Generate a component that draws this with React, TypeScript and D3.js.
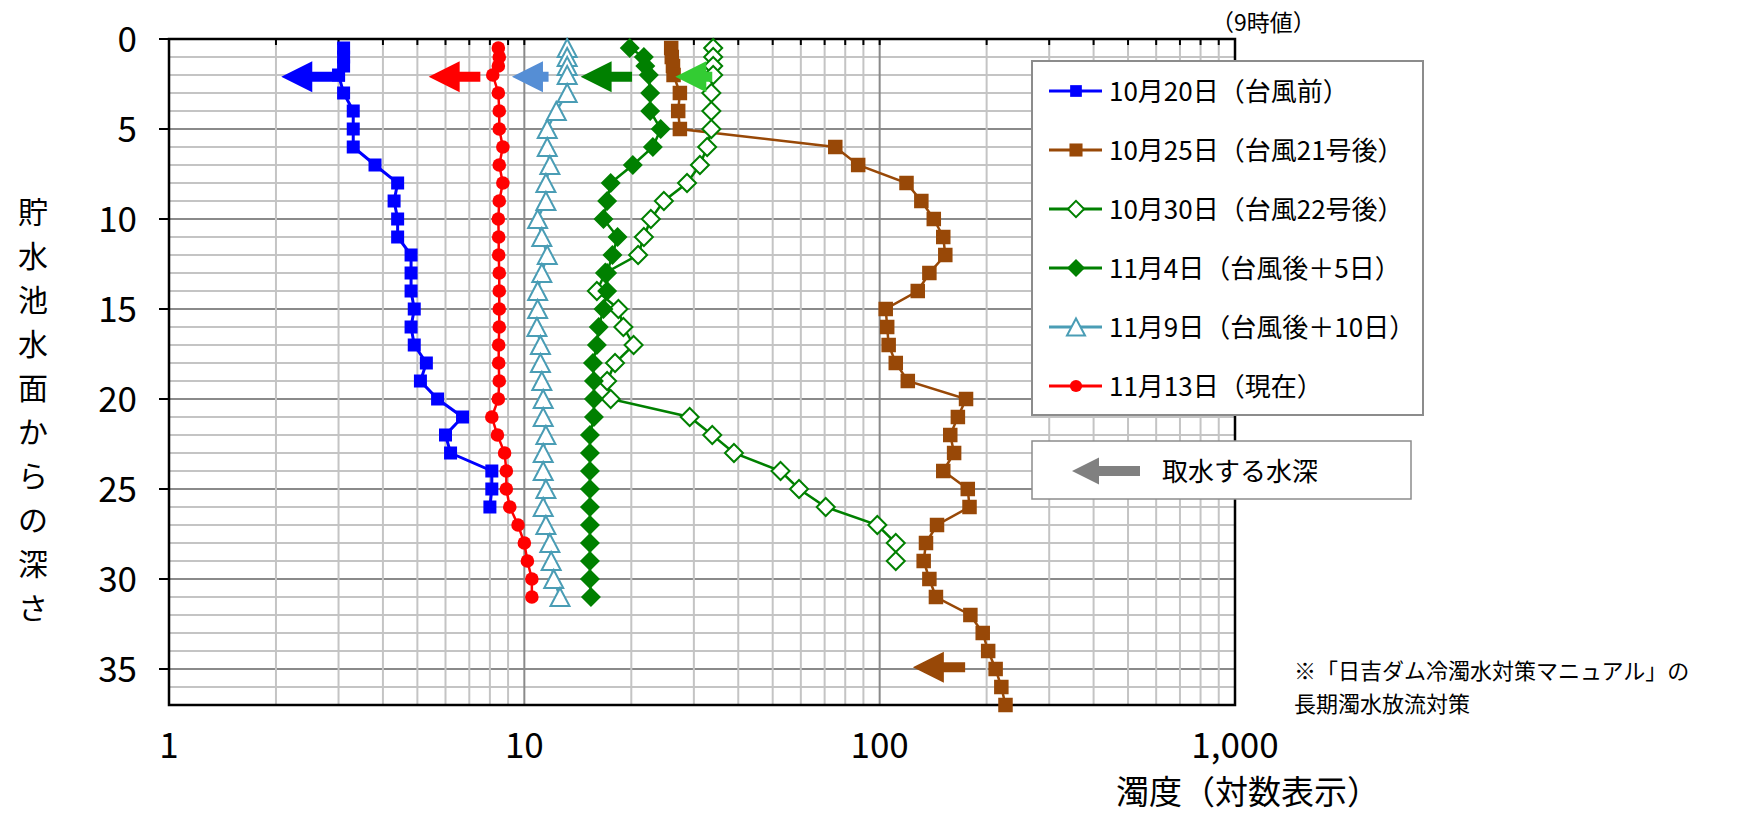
import React from 'react';
import * as d3 from 'd3';

// ---------- data ----------
const depths = [0.5, 1, 1.5, 2, 3, 4, 5, 6, 7, 8, 9, 10, 11, 12, 13, 14, 15, 16, 17, 18, 19, 20,
  21, 22, 23, 24, 25, 26, 27, 28, 29, 30, 31, 32, 33, 34, 35, 36, 37];

const seriesNames = [
  '10月20日（台風前）',
  '10月25日（台風21号後）',
  '10月30日（台風22号後）',
  '11月4日（台風後＋5日）',
  '11月9日（台風後＋10日）',
  '11月13日（現在）',
];

const oct20 = [3.1, 3.1, 3.1, 3.0, 3.1, 3.3, 3.3, 3.3, 3.8, 4.4, 4.3, 4.4, 4.4, 4.8, 4.8, 4.8, 4.9, 4.8,
  4.9, 5.3, 5.1, 5.7, 6.7, 6.0, 6.2, 8.1, 8.1, 8.0];
const oct25 = [25.9, 26.0, 26.2, 26.3, 27.4, 27.1, 27.4, 75, 87, 119, 131, 142, 151, 153, 138, 128, 104,
  105, 106, 111, 120, 175, 166, 158, 162, 151, 177, 179, 145, 135, 133, 138, 144, 180, 195, 202, 212,
  220, 226];
const oct30 = [34.0, 34.0, 34.0, 34.0, 33.6, 33.6, 33.6, 32.7, 31.2, 28.7, 24.7, 22.7, 21.7, 20.9, 16.9,
  16.0, 18.4, 19.0, 20.3, 18.0, 17.1, 17.5, 29.2, 33.8, 38.9, 52.6, 59.3, 70.5, 98.5, 111, 111];
const nov4 = [19.8, 21.7, 21.9, 22.4, 22.6, 22.6, 24.2, 23.0, 20.2, 17.5, 17.1, 16.7, 18.3, 17.7, 17.1,
  17.1, 16.7, 16.2, 16.0, 15.6, 15.7, 15.7, 15.7, 15.3, 15.3, 15.3, 15.3, 15.3, 15.3, 15.3, 15.3, 15.3,
  15.4];
const nov9 = [13.2, 13.2, 13.2, 13.2, 13.2, 12.3, 11.6, 11.6, 11.8, 11.5, 11.5, 10.9, 11.2, 11.6, 11.2,
  10.9, 10.9, 10.85, 11.1, 11.1, 11.2, 11.3, 11.3, 11.5, 11.3, 11.3, 11.5, 11.3, 11.5, 11.8, 11.9, 12.1,
  12.6];
const nov13 = [8.45, 8.5, 8.45, 8.15, 8.45, 8.5, 8.5, 8.7, 8.5, 8.7, 8.5, 8.45, 8.47, 8.47, 8.5, 8.5, 8.5,
  8.5, 8.47, 8.47, 8.5, 8.45, 8.1, 8.4, 8.8, 8.9, 8.9, 9.1, 9.6, 10.0, 10.2, 10.5, 10.5];

const seriesValues = [oct20, oct25, oct30, nov4, nov9, nov13];
const seriesColors = ['#0000FF', '#984807', '#008000', '#008000', '#4A9DB5', '#FF0000'];
const seriesShapes = ['square', 'bigsquare', 'opendiamond', 'diamond', 'triangle', 'circle'];

// intake-depth arrows
const arrowDepth = [2.1, 2.1, 2.1, 2.1, 2.1, 34.9];
const arrowTip = [2.07, 5.38, 9.23, 14.4, 26.6, 124];
const arrowTail = [3.13, 7.52, 11.7, 20.1, 33.8, 174];
const arrowColors = ['#0000FF', '#FF0000', '#558ED5', '#008000', '#33CC33', '#984807'];

const xTickLabels = ['1', '10', '100', '1,000'];
const xTickValues = [1, 10, 100, 1000];
const yTickValues = [0, 5, 10, 15, 20, 25, 30, 35];
const yTitle = '貯水池水面からの深さ';
const xTitle = '濁度（対数表示）';
const noteLines = ['※「日吉ダム冷濁水対策マニュアル」の', '長期濁水放流対策'];

// ---------- layout ----------
const W = 1737;
const H = 814;
const L = 169, R = 1235, T = 39, B = 705;
const FONT = '"Noto Sans CJK JP", "Noto Sans", sans-serif';

const x = d3.scaleLog().domain([1, 1000]).range([L, R]);
const y = d3.scaleLinear().domain([0, 37]).range([T, B]);

function Marker({ shape, cx, cy, color, scale = 1 }: any) {
  switch (shape) {
    case 'square': {
      const s = 13 * scale;
      return <rect x={cx - s / 2} y={cy - s / 2} width={s} height={s} fill={color} />;
    }
    case 'bigsquare': {
      const s = 14.5 * scale;
      return <rect x={cx - s / 2} y={cy - s / 2} width={s} height={s} fill={color} />;
    }
    case 'opendiamond': {
      const r = 9 * scale;
      return <path d={`M${cx},${cy - r}L${cx + r},${cy}L${cx},${cy + r}L${cx - r},${cy}Z`} fill="#fff" stroke={color} strokeWidth={2} />;
    }
    case 'diamond': {
      const r = 10 * scale;
      return <path d={`M${cx},${cy - r}L${cx + r},${cy}L${cx},${cy + r}L${cx - r},${cy}Z`} fill={color} />;
    }
    case 'triangle': {
      const w = 9.5 * scale, h = 9 * scale;
      return <path d={`M${cx},${cy - h}L${cx + w},${cy + h}L${cx - w},${cy + h}Z`} fill="#fff" stroke={color} strokeWidth={2} />;
    }
    default: {
      return <circle cx={cx} cy={cy} r={6.8 * scale} fill={color} />;
    }
  }
}

function arrowPath(xt: number, xe: number, yc: number) {
  const hl = 31, hh = 15.5, st = 5;
  const xh = xt + hl;
  if (xe <= xh + 1) {
    return `M${xt},${yc}L${xh},${yc - hh}L${xh},${yc + hh}Z`;
  }
  return `M${xt},${yc}L${xh},${yc - hh}L${xh},${yc - st}L${xe},${yc - st}L${xe},${yc + st}L${xh},${yc + st}L${xh},${yc + hh}Z`;
}

export default function App() {
  const xGrid = x.ticks();
  const yGrid = y.ticks(37);
  const line = d3.line<[number, number]>().x(d => x(d[0])).y(d => y(d[1]));

  return (
    <svg width={W} height={H} style={{ position: 'absolute', left: 0, top: 0, background: '#fff' }} fontFamily={FONT}>
      <rect x={0} y={0} width={W} height={H} fill="#fff" />
      {/* horizontal grid */}
      {yGrid.filter(v => v > 0 && v < 37).map(v => (
        <line key={'h' + v} x1={L} x2={R} y1={y(v)} y2={y(v)}
          stroke={v % 5 === 0 ? '#8a8a8a' : '#c4c4c4'} strokeWidth={2} />
      ))}
      {/* vertical grid */}
      {xGrid.filter(v => v > 1 && v < 1000).map(v => {
        const major = Math.abs(Math.log10(v) - Math.round(Math.log10(v))) < 1e-9;
        return <line key={'v' + v} x1={x(v)} x2={x(v)} y1={T} y2={B}
          stroke={major ? '#8a8a8a' : '#c4c4c4'} strokeWidth={2} />;
      })}
      {/* top ticks */}
      {xGrid.map(v => (
        <line key={'tt' + v} x1={x(v)} x2={x(v)} y1={T} y2={T + 6} stroke="#000" strokeWidth={2} />
      ))}
      {/* left ticks */}
      {yTickValues.map(v => (
        <line key={'lt' + v} x1={L - 10} x2={L} y1={y(v)} y2={y(v)} stroke="#000" strokeWidth={2} />
      ))}
      {/* frame */}
      <rect x={L} y={T} width={R - L} height={B - T} fill="none" stroke="#000" strokeWidth={2.5} />

      {/* series */}
      {seriesValues.map((vals, si) => {
        const pts: [number, number][] = vals.map((v, i) => [v, depths[i]]);
        return (
          <g key={'s' + si}>
            <path d={line(pts) || ''} fill="none" stroke={seriesColors[si]} strokeWidth={si === 0 ? 3 : 2.5} />
            {pts.map((p, i) => (
              <Marker key={i} shape={seriesShapes[si]} cx={x(p[0])} cy={y(p[1])} color={seriesColors[si]} />
            ))}
          </g>
        );
      })}

      {/* intake arrows */}
      {arrowTip.map((t, i) => (
        <path key={'a' + i} d={arrowPath(x(t), x(arrowTail[i]), y(arrowDepth[i]))} fill={arrowColors[i]} />
      ))}

      {/* y tick labels */}
      {yTickValues.map(v => (
        <text key={'yl' + v} x={137} y={y(v) + 12.5} textAnchor="end" fontSize={35} fill="#000">{v}</text>
      ))}
      {/* x tick labels */}
      {xTickValues.map((v, i) => (
        <text key={'xl' + v} x={x(v)} y={758} textAnchor="middle" fontSize={35} fill="#000">{xTickLabels[i]}</text>
      ))}

      {/* y title (vertical) */}
      {Array.from(yTitle).map((c, i) => (
        <text key={'yt' + i} x={33} y={212 + i * 44 + 11} textAnchor="middle" fontSize={30} fill="#000">{c}</text>
      ))}
      {/* x title */}
      <text x={1116} y={804} fontSize={33} fill="#000">{xTitle}</text>

      <text x={1211} y={31} fontSize={23} fill="#000">（9時値）</text>

      {/* legend */}
      <rect x={1032} y={61} width={391} height={354} fill="#fff" stroke="#8c8c8c" strokeWidth={2} />
      {seriesNames.map((n, i) => {
        const cy = 91 + i * 59;
        return (
          <g key={'lg' + i}>
            <line x1={1049} x2={1102} y1={cy} y2={cy} stroke={seriesColors[i]} strokeWidth={3} />
            <Marker shape={seriesShapes[i]} cx={1076} cy={cy} color={seriesColors[i]} scale={i === 4 ? 0.95 : 0.9} />
            <text x={1109} y={cy + 10} fontSize={26} fill="#000">{n}</text>
          </g>
        );
      })}

      {/* intake legend box */}
      <rect x={1032} y={441} width={379} height={58} fill="#fff" stroke="#8c8c8c" strokeWidth={1.5} />
      <path d={`M1072,471L1099,457.5L1099,466L1140,466L1140,476L1099,476L1099,484.5Z`} fill="#808080" />
      <text x={1162} y={481} fontSize={26} fill="#000">取水する水深</text>

      {/* note */}
      {noteLines.map((t, i) => (
        <text key={'n' + i} x={1294} y={679 + i * 33} fontSize={22} fill="#000">{t}</text>
      ))}
    </svg>
  );
}
